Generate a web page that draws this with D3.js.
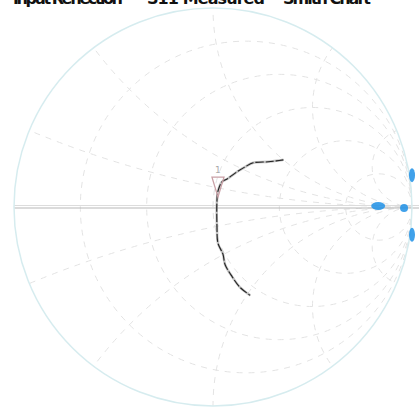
<!doctype html>
<html>
<head>
  <title>Smith Chart</title>
  <style>
    body { margin: 0; background: #fff; }
    svg { display: block; font-family: "DejaVu Sans", sans-serif; }
  </style>
</head>
<body>
  <svg></svg>
  <script src="https://cdnjs.cloudflare.com/ajax/libs/d3/7.8.5/d3.min.js"></script>
  <script>
  // title pieces (clipped at top edge in the original)
  var titleWords = ["Input Reflection", "S11 Measured", "Smith Chart"];

  // smith grid values
  var resistanceVals = [0.2, 0.5, 1, 2, 5];
  var reactanceVals = [0.2, 0.5, 1, 2, 5, -0.2, -0.5, -1, -2, -5];

  // measured trace, reflection coefficient (real, imag)
  var traceRe = [0.354, 0.318, 0.278, 0.202, 0.162, 0.121, 0.071, 0.045, 0.025, 0.02, 0.02, 0.025, 0.05, 0.061, 0.096, 0.136, 0.187];
  var traceIm = [0.237, 0.232, 0.227, 0.222, 0.202, 0.177, 0.141, 0.126, 0.08, 0.035, -0.101, -0.182, -0.237, -0.29, -0.35, -0.404, -0.444];

  // marker (triangle) position
  var markerRe = [0.025];
  var markerIm = [0.1];

  // blue points near the open end
  var blueRe = [0.83, 0.96, 1.0, 1.0];
  var blueIm = [0.005, -0.005, 0.16, -0.14];

  var width = 419, height = 411;
  var cx = 213, cy = 207, R = 199;

  var svg = d3.select("svg")
    .attr("width", width)
    .attr("height", height);

  var x = d3.scaleLinear().domain([-1, 1]).range([cx - R, cx + R]);
  var y = d3.scaleLinear().domain([-1, 1]).range([cy + R, cy - R]);
  var k = R; // pixels per unit radius

  svg.append("clipPath").attr("id", "unit")
    .append("circle")
    .attr("cx", x(0)).attr("cy", y(0)).attr("r", k);

  var grid = svg.append("g").attr("clip-path", "url(#unit)");

  // constant resistance circles
  grid.selectAll("circle.res")
    .data(resistanceVals)
    .enter().append("circle")
    .attr("class", "res")
    .attr("cx", function(d) { return x(d / (1 + d)); })
    .attr("cy", y(0))
    .attr("r", function(d) { return k / (1 + d); })
    .style("fill", "none")
    .style("stroke", "#e3e3e3")
    .style("stroke-width", 1)
    .style("stroke-dasharray", "6,6");

  // constant reactance arcs
  grid.selectAll("circle.reac")
    .data(reactanceVals)
    .enter().append("circle")
    .attr("class", "reac")
    .attr("cx", x(1))
    .attr("cy", function(d) { return y(1 / d); })
    .attr("r", function(d) { return k / Math.abs(d); })
    .style("fill", "none")
    .style("stroke", "#e3e3e3")
    .style("stroke-width", 1)
    .style("stroke-dasharray", "6,6");

  // real axis
  svg.append("line")
    .attr("x1", x(-1)).attr("x2", width)
    .attr("y1", y(0) - 1.5).attr("y2", y(0) - 1.5)
    .style("stroke", "#dcdcdc").style("stroke-width", 1);
  svg.append("line")
    .attr("x1", x(-1)).attr("x2", width)
    .attr("y1", y(0) + 1).attr("y2", y(0) + 1)
    .style("stroke", "#b8b8b8").style("stroke-width", 1.2);

  // outer circle
  svg.append("circle")
    .attr("cx", x(0)).attr("cy", y(0)).attr("r", k)
    .style("fill", "none")
    .style("stroke", "#d6ecef")
    .style("stroke-width", 1.5);

  // trace
  var line = d3.line()
    .x(function(d) { return x(d[0]); })
    .y(function(d) { return y(d[1]); })
    .curve(d3.curveCatmullRom);
  var pts = traceRe.map(function(d, i) { return [d, traceIm[i]]; });

  svg.append("path")
    .datum(pts)
    .attr("d", line)
    .style("fill", "none")
    .style("stroke", "#999")
    .style("stroke-opacity", 0.6)
    .style("stroke-width", 2.5);
  svg.append("path")
    .datum(pts)
    .attr("d", line)
    .style("fill", "none")
    .style("stroke", "#222")
    .style("stroke-width", 1.1)
    .style("stroke-dasharray", "8,2");

  // triangle marker (tall, pointing down)
  svg.selectAll("path.mk")
    .data(markerRe)
    .enter().append("path")
    .attr("class", "mk")
    .attr("d", "M-6,-10L6,-10L0,10Z")
    .attr("transform", function(d, i) {
      return "translate(" + x(d) + "," + y(markerIm[i]) + ")";
    })
    .style("fill", "none")
    .style("stroke", "#c9a0a6")
    .style("stroke-width", 1.3);
  svg.selectAll("text.mk")
    .data(markerRe)
    .enter().append("text")
    .attr("class", "mk")
    .attr("x", function(d) { return x(d); })
    .attr("y", function(d, i) { return y(markerIm[i]) - 14; })
    .attr("text-anchor", "middle")
    .style("font-size", "9px")
    .style("fill", "#aaa")
    .text("1");

  // blue points
  svg.selectAll("ellipse.pt")
    .data(blueRe)
    .enter().append("ellipse")
    .attr("class", "pt")
    .attr("cx", function(d) { return x(d); })
    .attr("cy", function(d, i) { return y(blueIm[i]); })
    .attr("rx", function(d, i) { return i === 0 ? 7 : (i === 1 ? 4 : 3); })
    .attr("ry", function(d, i) { return i < 2 ? 4 : 7; })
    .style("fill", "#1e90e6")
    .style("fill-opacity", 0.85);

  // title, clipped off the top edge as in the original
  var tx = d3.scaleLinear().domain([0, 2]).range([13, 283]);
  svg.selectAll("text.title")
    .data(titleWords)
    .enter().append("text")
    .attr("class", "title")
    .attr("x", function(d, i) { return tx(i) + (i === 1 ? 134 - 135 : 0); })
    .attr("y", 4)
    .attr("textLength", function(d, i) { return [110, 118, 88][i]; })
    .style("font-size", "16px")
    .style("font-weight", "bold")
    .style("fill", "#111")
    .text(function(d) { return d; });
  </script>
</body>
</html>
